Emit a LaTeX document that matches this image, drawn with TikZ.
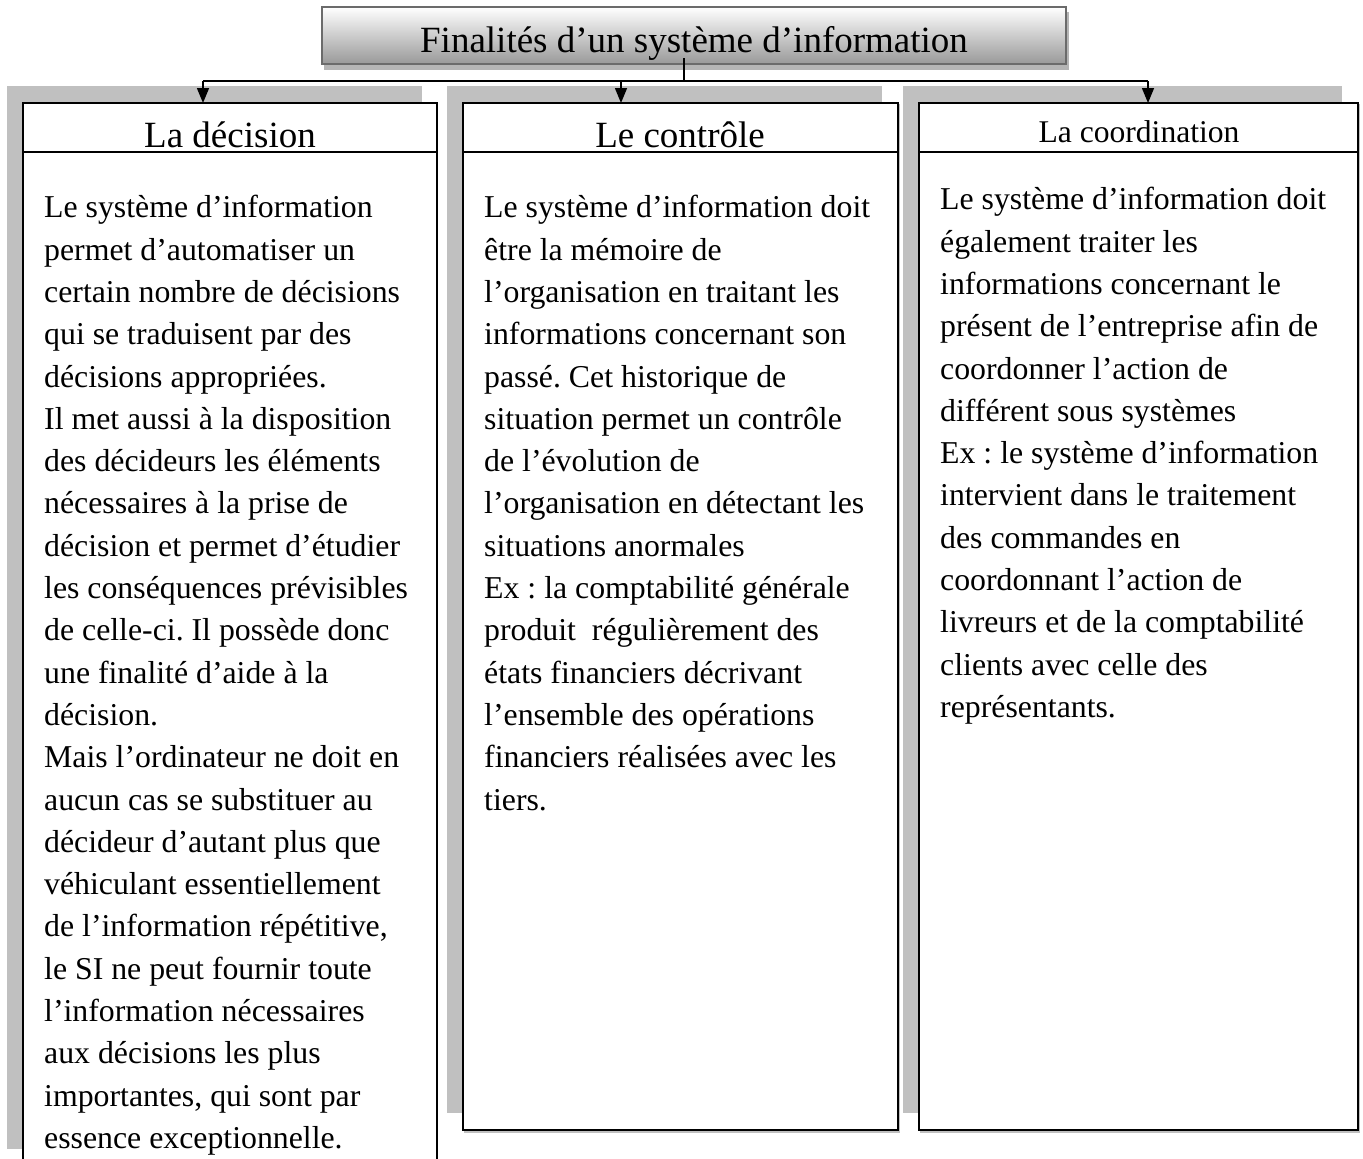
\documentclass[tikz,border=0pt]{standalone}
\usepackage{fontspec}
\setmainfont{Liberation Serif}
\usetikzlibrary{arrows.meta,positioning}
\frenchspacing

\definecolor{colshade}{HTML}{C0C0C0}
\definecolor{titleedge}{HTML}{6B6B6B}
\definecolor{titleshade}{HTML}{B5B5B5}

\tikzset{
  bodyfont/.style={font=\fontsize{31.8pt}{42.3pt}\selectfont},
  headfont/.style={font=\fontsize{37pt}{44pt}\selectfont},
  frame/.style={draw=black, line width=1.6pt, fill=white, rectangle,
    inner sep=0pt, outer sep=0pt, anchor=north west},
  shade box/.style={fill=colshade, draw=none},
  bodytext/.style={bodyfont, align=left, anchor=north west, inner sep=0pt},
  headtext/.style={anchor=base, inner sep=0pt},
  link/.style={line width=1.5pt, black},
  arr/.style={link, -{Triangle[length=15pt,width=12pt]}}
}

\begin{document}
\begin{tikzpicture}[x=1pt,y=-1pt]
\useasboundingbox (0,0) rectangle (1363,1159);
\clip (0,0) rectangle (1363,1159);
\fill[white] (0,0) rectangle (1363,1159);

% title box with drop shadow and vertical gradient
\fill[titleshade] (324,12) rectangle (1069,70);
\node[draw=titleedge, line width=2.5pt, top color=white, bottom color=black!40,
      minimum width=744pt, minimum height=57pt, anchor=north west,
      inner sep=0pt, outer sep=0pt] (title) at (322,7) {};
\node[headfont, headtext] (titletext) at (694,52) {Finalités d’un système d’information};

% grey backing panels behind the three columns
\fill[shade box] (7,86) rectangle (422,1149);
\fill[shade box] (447,86) rectangle (882,1113);
\fill[shade box] (903,86) rectangle (1342,1113);

% faint lower shadow lines of the closed columns
\draw[colshade, line width=1.6pt] (464,1132) -- (899,1132) -- (899,104);
\draw[colshade, line width=1.6pt] (920,1132) -- (1359,1132) -- (1359,104);

% column frames: header cell and body cell
\node[frame, minimum width=414pt, minimum height=49pt] (h1) at (23,103) {};
\node[frame, minimum width=414pt, minimum height=1020pt] (b1) at (23,152) {};
\node[frame, minimum width=435pt, minimum height=49pt] (h2) at (463,103) {};
\node[frame, minimum width=435pt, minimum height=978pt] (b2) at (463,152) {};
\node[frame, minimum width=439pt, minimum height=49pt] (h3) at (919,103) {};
\node[frame, minimum width=439pt, minimum height=978pt] (b3) at (919,152) {};

% column headings
\node[headfont, headtext] (t1) at (230,147) {La décision};
\node[headfont, headtext] (t2) at (680,147) {Le contrôle};
\node[headtext, font=\fontsize{31.6pt}{36pt}\selectfont] (t3) at (1139,142) {La coordination};

% connectors from the title to the columns
\coordinate (stem) at (684,58);
\coordinate (bar) at (684,81);
\coordinate (j1) at (203,81);
\coordinate (j2) at (621,81);
\coordinate (j3) at (1148,81);
\draw[link] (stem) -- (bar);
\draw[link] (j1) -- (j3);
\draw[arr] (j1) -- (j1 |- h1.north);
\draw[arr] (j2) -- (j2 |- h2.north);
\draw[arr] (j3) -- (j3 |- h3.north);

% body texts
\node[bodytext] (x1) at (44,188) {\strut Le système d’information\\
permet d’automatiser un\\
certain nombre de décisions\\
qui se traduisent par des\\
décisions appropriées.\\
Il met aussi à la disposition\\
des décideurs les éléments\\
nécessaires à la prise de\\
décision et permet d’étudier\\
les conséquences prévisibles\\
de celle-ci. Il possède donc\\
une finalité d’aide à la\\
décision.\\
Mais l’ordinateur ne doit en\\
aucun cas se substituer au\\
décideur d’autant plus que\\
véhiculant essentiellement\\
de l’information répétitive,\\
le SI ne peut fournir toute\\
l’information nécessaires\\
aux décisions les plus\\
importantes, qui sont par\\
essence exceptionnelle.};

\node[bodytext] (x2) at (484,188) {\strut Le système d’information doit\\
être la mémoire de\\
l’organisation en traitant les\\
informations concernant son\\
passé. Cet historique de\\
situation permet un contrôle\\
de l’évolution de\\
l’organisation en détectant les\\
situations anormales\\
Ex : la comptabilité générale\\
produit~~régulièrement des\\
états financiers décrivant\\
l’ensemble des opérations\\
financiers réalisées avec les\\
tiers.};

\node[bodytext] (x3) at (940,180) {\strut Le système d’information doit\\
également traiter les\\
informations concernant le\\
présent de l’entreprise afin de\\
coordonner l’action de\\
différent sous systèmes\\
Ex : le système d’information\\
intervient dans le traitement\\
des commandes en\\
coordonnant l’action de\\
livreurs et de la comptabilité\\
clients avec celle des\\
représentants.};
\end{tikzpicture}
\end{document}
